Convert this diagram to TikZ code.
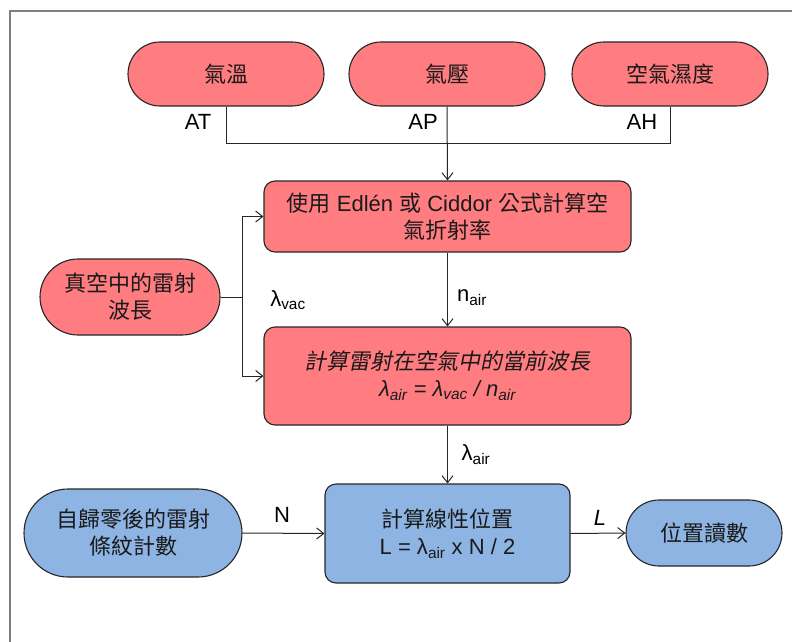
\documentclass[tikz,border=0pt]{standalone}
\usepackage{fontspec}
\setmainfont{Liberation Sans}
\newfontfamily\cjk{Noto Sans CJK TC}
\newfontfamily\cjkit[FakeSlant=0.2]{Noto Sans CJK TC}
\usetikzlibrary{arrows.meta}
\definecolor{boxred}{HTML}{FF7C80}
\definecolor{boxblue}{HTML}{8DB4E2}
\definecolor{edge}{HTML}{262626}
\definecolor{framegray}{HTML}{7F7F7F}
\definecolor{txt}{HTML}{1A1A1A}
\tikzset{
  base/.style={draw=edge, line width=1.1pt, inner sep=0pt, align=center, text=txt,
    font=\fontsize{22}{27}\selectfont},
  pill/.style={base, minimum height=2*#1, rounded corners=#1},
  boxr/.style={base, rounded corners=11pt},
  lab/.style={inner sep=0pt, text=black, font=\fontsize{22}{26}\selectfont},
  conn/.style={draw=edge, line width=1pt},
  arr/.style={conn, -{Straight Barb[length=7pt,width=11pt]}},
}
\begin{document}
\begin{tikzpicture}[x=1pt,y=-1pt]
\useasboundingbox (0,0) rectangle (792,642);
\draw[framegray, line width=1.5pt] (10,642) -- (10,11) -- (792,11);

\node[pill=32pt, fill=boxred, minimum width=196pt] (temp) at (226,74) {\cjk 氣溫};
\node[pill=32pt, fill=boxred, minimum width=196pt] (pres) at (447,74) {\cjk 氣壓};
\node[pill=32pt, fill=boxred, minimum width=196pt] (hum) at (670,74) {\cjk 空氣濕度};

\node[boxr, fill=boxred, minimum width=367pt, minimum height=71pt] (edlen) at (447.5,216.5)
  {{\cjk 使用} Edlén {\cjk 或} Ciddor {\cjk 公式計算空}\\{\cjk 氣折射率}};
\node[pill=38pt, fill=boxred, minimum width=180pt] (vac) at (130,297) {\cjk 真空中的雷射\\\cjk 波長};
\node[boxr, fill=boxred, minimum width=367pt, minimum height=98pt] (cur) at (447.5,376)
  {{\cjkit 計算雷射在空氣中的當前波長}\\{\itshape λ\textsubscript{air} = λ\textsubscript{vac} / n\textsubscript{air}}};

\node[pill=44pt, fill=boxblue, minimum width=218pt] (count) at (133,533) {\cjk 自歸零後的雷射\\\cjk 條紋計數};
\node[boxr, fill=boxblue, minimum width=245pt, minimum height=99pt] (lin) at (447.5,533.5)
  {{\cjk 計算線性位置}\\L = λ\textsubscript{air} x N / 2};
\node[pill=33pt, fill=boxblue, minimum width=156pt] (read) at (704,533) {\cjk 位置讀數};

\node[lab] (lat) at (198,122) {AT};
\node[lab] (lap) at (423,122) {AP};
\node[lab] (lah) at (642,122) {AH};
\node[lab] (lvac) at (288,300) {λ\textsubscript{vac}};
\node[lab] (lnair) at (472,298) {n\textsubscript{air}};
\node[lab] (llair) at (476,455) {λ\textsubscript{air}};
\node[lab] (lN) at (282,515) {N};
\node[lab] (lL) at (600,518) {\itshape L};

\coordinate (join) at (226,143);
\draw[conn] (temp.south) -- (join) -| (hum.south);
\draw[arr] (pres.south) -- (edlen.north);

\coordinate (split) at (242,297);
\draw[conn] (vac.east) -- (split);
\draw[arr] (split) |- (edlen.west);
\draw[arr] (split) |- (cur.west);

\draw[arr] (edlen.south) -- (cur.north);
\draw[arr] (cur.south) -- (lin.north);
\draw[arr] (count.east) -- (lin.west);
\draw[arr] (lin.east) -- (read.west);
\end{tikzpicture}
\end{document}
